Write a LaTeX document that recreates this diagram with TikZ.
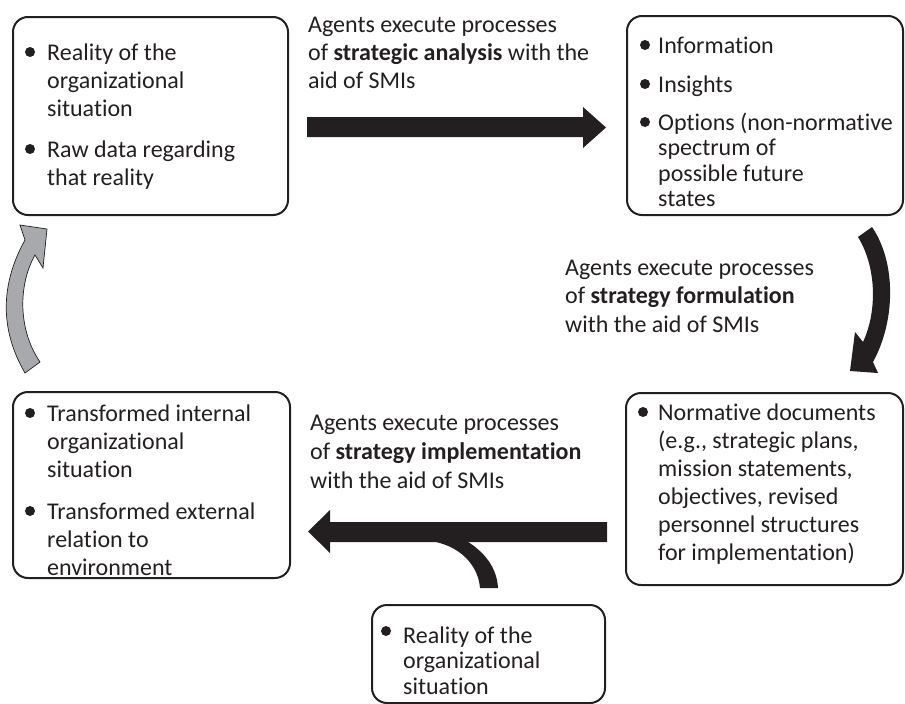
\documentclass[tikz,border=0pt]{standalone}
\usepackage{fontspec}
\setmainfont[Ligatures={NoCommon}]{Carlito}
\newcommand\mylines[2][28]{{\fontsize{24}{#1}\selectfont\begin{tabular}[t]{@{}l@{}}#2\end{tabular}}}
\definecolor{ink}{HTML}{231F20}
\definecolor{arrowgray}{HTML}{A7A9AC}
\begin{document}
\begin{tikzpicture}[x=1pt,y=-1pt,
  box/.style={draw=ink, line width=2pt, rounded corners=15pt, inner sep=0pt, rectangle},
  txt/.style={anchor=base west, inner sep=0pt, text=ink, font=\fontsize{24}{28}\selectfont},
  dot/.style={circle, fill=ink, inner sep=0pt, minimum size=10pt},
  blockarrow/.style={fill=ink},
  grayarrow/.style={fill=arrowgray, draw=ink, line width=0.7pt, line join=miter}]
\useasboundingbox (0,0) rectangle (905,704);

% boxes
\node[box, minimum width=275pt, minimum height=198pt] (b1) at (150.5,116) {};
\node[box, minimum width=276pt, minimum height=199pt] (b2) at (765,115.5) {};
\node[box, minimum width=277pt, minimum height=192pt] (b3) at (764.5,489) {};
\node[box, minimum width=277pt, minimum height=186pt] (b4) at (151.5,485) {};
\node[box, minimum width=233pt, minimum height=98pt] (b5) at (488.5,654) {};

% box 1
\node[dot] (d1a) at (30,52) {};
\node[txt] (t1a) at (47,60) {\mylines{Reality of the\\organizational\\situation}};
\node[dot] (d1b) at (30,149) {};
\node[txt] (t1b) at (47,157) {\mylines{Raw data regarding\\that reality}};

% box 2
\node[dot] (d2a) at (645,45) {};
\node[txt] (t2a) at (658,53) {\mylines{Information}};
\node[dot] (d2b) at (645,84) {};
\node[txt] (t2b) at (658,92) {\mylines{Insights}};
\node[dot] (d2c) at (645,122) {};
\node[txt] (t2c) at (658,130) {\mylines[25.5]{Options (non-normative\\spectrum of\\possible future\\states}};

% box 3
\node[dot] (d3a) at (643,412) {};
\node[txt] (t3a) at (658,420) {\mylines{Normative documents\\(e.g., strategic plans,\\mission statements,\\objectives, revised\\personnel structures\\for implementation)}};

% box 4
\node[dot] (d4a) at (30,413) {};
\node[txt] (t4a) at (47,421) {\mylines{Transformed internal\\organizational\\situation}};
\node[dot] (d4b) at (30,511) {};
\node[txt] (t4b) at (47,519) {\mylines{Transformed external\\relation to\\environment}};

% box 5
\node[dot] (d5a) at (386,631) {};
\node[txt] (t5a) at (403,643) {\mylines[25.5]{Reality of the\\organizational\\situation}};

% labels
\node[txt] (l1) at (308,32) {\mylines{Agents execute processes\\of \textbf{strategic analysis} with the\\aid of SMIs}};
\node[txt] (l2) at (565,275) {\mylines[28.5]{Agents execute processes\\of \textbf{strategy formulation}\\with the aid of SMIs}};
\node[txt] (l3) at (310,430) {\mylines[29]{Agents execute processes\\of \textbf{strategy implementation}\\with the aid of SMIs}};

% top straight arrow
\fill[blockarrow] (307,117) -- (583,117) -- (583,107) -- (606,127.5) -- (583,148) -- (583,137) -- (307,137) -- cycle;

% bottom straight arrow with branch
\fill[blockarrow] (607,522) -- (330,522) -- (330,510) -- (308,531.5) -- (330,553) -- (330,542) -- (607,542) -- cycle;
\fill[blockarrow] (420,540) .. controls (455,541) and (478,562) .. (480,588) -- (498,588) .. controls (497,568) and (485,552) .. (465,540) -- cycle;

% right curved arrow
\fill[blockarrow] (858,237) -- (872,227) .. controls (896,262) and (896,320) .. (873,362) -- (878,373) -- (850,371) -- (855,332) -- (863,342) .. controls (877,312) and (877,268) .. (858,237) -- cycle;

% left curved gray arrow
\filldraw[grayarrow] (25,373) .. controls (0,330) and (0,285) .. (25,240) -- (20,225) -- (47,229) -- (43,268) -- (35,255) .. controls (18,285) and (18,330) .. (40,362) -- cycle;
\end{tikzpicture}
\end{document}
